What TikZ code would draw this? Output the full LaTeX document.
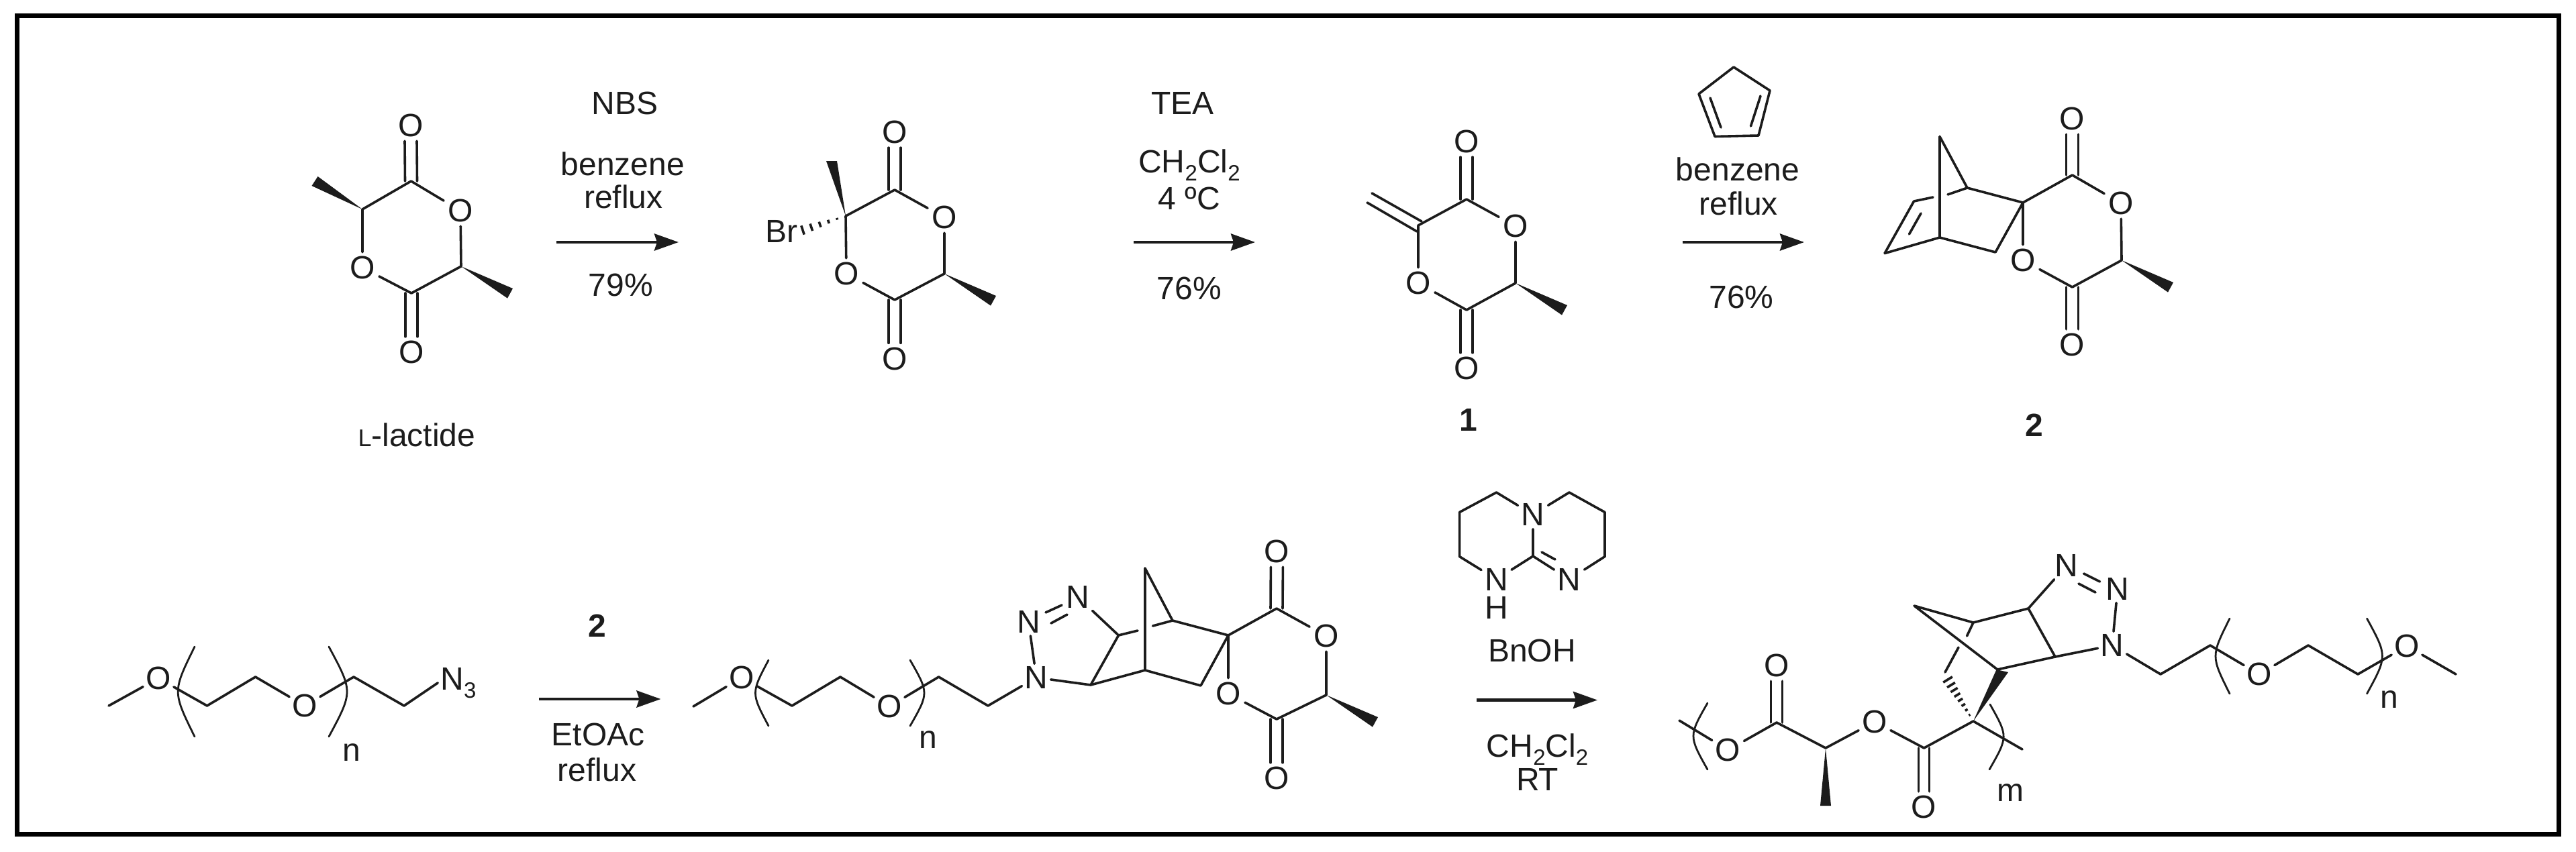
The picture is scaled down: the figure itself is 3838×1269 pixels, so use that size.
\documentclass[tikz,border=0pt]{standalone}
\usepackage{fontspec}
\setmainfont{Liberation Sans}
\usetikzlibrary{calc,arrows.meta}
\definecolor{ink}{HTML}{1C1C1C}
\newcommand{\subnum}[1]{\raisebox{-0.26em}{\fontsize{33}{33}\selectfont #1}}
\newcommand{\hashw}[4]{%
  \foreach \hT in {#4}{%
    \path ($(#1)!\hT!(#2)$) coordinate (hp);
    \pgfmathsetmacro\hW{#3*\hT}
    \draw[hashstroke] ($(hp)!\hW pt!90:(#1)$) -- ($(hp)!\hW pt!-90:(#1)$);
  }}
\newcommand{\mewedge}[1]{\fill[ink] (#1) -- ++(77,33) -- ++(-8,14.6) -- cycle;}
\tikzset{
  bond/.style={draw=ink,line width=3.6pt,line cap=round,line join=round},
  hashstroke/.style={draw=ink,line width=3.6pt},
  thinbrk/.style={draw=ink,line width=2.8pt,line cap=round},
  atom/.style={font=\fontsize{48}{48}\selectfont,text=ink,inner sep=6pt},
  lab/.style={font=\fontsize{48}{48}\selectfont,text=ink,inner sep=0pt},
  numlab/.style={font=\fontsize{48}{48}\selectfont\bfseries,text=ink,inner sep=0pt},
  rxn/.style={draw=ink,line width=4.5pt,-{Stealth[length=36pt,width=25pt,inset=4pt]}},
  frame/.style={draw=black,line width=7pt}
}
\begin{document}
\begin{tikzpicture}[x=1pt,y=-1pt]
\useasboundingbox (0,0) rectangle (3838,1269);
\fill[white] (0,0) rectangle (3838,1269);
\draw[frame] (25.5,23.5) rectangle (3812.5,1243.5);

% ---------- L-lactide
\coordinate (a1) at (612.5,270); \coordinate (a2) at (540,312);
\coordinate (a3) at (613,437);   \coordinate (a4) at (687,397);
\node[atom] (ao1) at (686,314) {O};
\node[atom] (ao2) at (540,399) {O};
\node[atom] (ao3) at (612,187) {O};
\node[atom] (ao4) at (613,525) {O};
\draw[bond] (a1)--(ao1) (a1)--(a2) (a2)--(ao2) (ao2)--(a3) (a3)--(a4) (a4)--(ao1);
\draw[bond] ([xshift=-9pt]a1)--([xshift=-9pt]ao3.south) ([xshift=9pt]a1)--([xshift=9pt]ao3.south);
\draw[bond] ([xshift=-9pt]a3)--([xshift=-9pt]ao4.north) ([xshift=9pt]a3)--([xshift=9pt]ao4.north);
\fill[ink] (a2) -- (464.5,277) -- (473.5,263) -- cycle;
\mewedge{a4}
\node[lab] (lac) at (621,648) {{\fontsize{36}{36}\selectfont L}-lactide};

% ---------- arrow 1
\coordinate (r1s) at (829,361); \coordinate (r1e) at (1011,361);
\draw[rxn] (r1s)--(r1e);
\node[lab] (l1a) at (931,154) {NBS};
\node[lab] (l1b) at (928,244) {benzene};
\node[lab] (l1c) at (929,293) {reflux};
\node[lab] (l1d) at (925,425) {79\%};

% ---------- bromide
\coordinate (b1) at (1333,283); \coordinate (b2) at (1407,408);
\coordinate (b3) at (1333,447); \coordinate (bq) at (1260,322);
\node[atom] (bo1) at (1407,324) {O};
\node[atom] (bo2) at (1261,408) {O};
\node[atom] (bo3) at (1333,197) {O};
\node[atom] (bo4) at (1333,534.5) {O};
\node[lab] (br) at (1164,345) {Br};
\draw[bond] (b1)--(bo1) (b1)--(bq) (bq)--(bo2) (bo2)--(b3) (b3)--(b2) (b2)--(bo1);
\draw[bond] ([xshift=-9pt]b1)--([xshift=-9pt]bo3.south) ([xshift=9pt]b1)--([xshift=9pt]bo3.south);
\draw[bond] ([xshift=-9pt]b3)--([xshift=-9pt]bo4.north) ([xshift=9pt]b3)--([xshift=9pt]bo4.north);
\fill[ink] (bq) -- (1231,240) -- (1247,240) -- cycle;
\coordinate (bh) at (1196,343);
\hashw{bq}{bh}{7}{0.2,0.4,0.6,0.8,1.0}
\mewedge{b2}

% ---------- arrow 2
\coordinate (r2s) at (1689,361); \coordinate (r2e) at (1870,361);
\draw[rxn] (r2s)--(r2e);
\node[lab] (l2a) at (1762,154) {TEA};
\node[lab] (l2b) at (1772,246) {CH\subnum{2}Cl\subnum{2}};
\node[lab] (l2c) at (1772,296) {4 ºC};
\node[lab] (l2d) at (1772,430) {76\%};

% ---------- compound 1
\coordinate (c1) at (2185,297); \coordinate (c2) at (2258,422);
\coordinate (c3) at (2185,462); \coordinate (cq) at (2113,336);
\coordinate (cma) at (2118,330); \coordinate (cmb) at (2044,288);
\coordinate (cmc) at (2111,345); \coordinate (cmd) at (2037,302);
\node[atom] (co1) at (2258,337) {O};
\node[atom] (co2) at (2113,422) {O};
\node[atom] (co3) at (2185,211) {O};
\node[atom] (co4) at (2185,549) {O};
\draw[bond] (c1)--(co1) (c1)--(cq) (cq)--(co2) (co2)--(c3) (c3)--(c2) (c2)--(co1);
\draw[bond] ([xshift=-9pt]c1)--([xshift=-9pt]co3.south) ([xshift=9pt]c1)--([xshift=9pt]co3.south);
\draw[bond] ([xshift=-9pt]c3)--([xshift=-9pt]co4.north) ([xshift=9pt]c3)--([xshift=9pt]co4.north);
\draw[bond] (cma)--(cmb) (cmc)--(cmd);
\mewedge{c2}
\node[numlab] (n1) at (2188,626) {1};

% ---------- arrow 3, cyclopentadiene
\coordinate (p1) at (2583,100); \coordinate (p2) at (2637,135);
\coordinate (p3) at (2620,202); \coordinate (p4) at (2555,203.5);
\coordinate (p5) at (2531,140);
\draw[bond] (p1)--(p2)--(p3)--(p4)--(p5)--cycle;
\coordinate (p6) at (2548,146); \coordinate (p7) at (2564,190);
\coordinate (p8) at (2623,143); \coordinate (p9) at (2608.5,188);
\draw[bond] (p6)--(p7) (p8)--(p9);
\coordinate (r3s) at (2506.5,361); \coordinate (r3e) at (2688,361);
\draw[rxn] (r3s)--(r3e);
\node[lab] (l3b) at (2589,252.5) {benzene};
\node[lab] (l3c) at (2590,303) {reflux};
\node[lab] (l3d) at (2594.5,443) {76\%};

% ---------- compound 2
\coordinate (da) at (2890,203.5); \coordinate (db) at (2890,354);
\coordinate (dt) at (2931,280);   \coordinate (ds) at (3014,302);
\coordinate (dc) at (2973,376);   \coordinate (dl1) at (2851.5,300);
\coordinate (dl2) at (2808,377.6); \coordinate (dg1) at (2880,294);
\coordinate (dg2) at (2902,290);  \coordinate (di1) at (2862,318);
\coordinate (di2) at (2844.5,349);
\coordinate (d1) at (3087.5,261); \coordinate (d2) at (3161,388);
\coordinate (d3) at (3087.5,428);
\node[atom] (do1) at (3160,303) {O};
\node[atom] (do2) at (3014,388) {O};
\node[atom] (do3) at (3087.5,177) {O};
\node[atom] (do4) at (3087.5,514) {O};
\draw[bond] (da)--(db) (da)--(dt) (dt)--(ds) (ds)--(dc) (dc)--(db) (db)--(dl2) (dl2)--(dl1) (dl1)--(dg1) (dg2)--(dt) (di1)--(di2);
\draw[bond] (ds)--(do2) (ds)--(d1) (d1)--(do1) (do1)--(d2) (d2)--(d3) (d3)--(do2);
\draw[bond] ([xshift=-9pt]d1)--([xshift=-9pt]do3.south) ([xshift=9pt]d1)--([xshift=9pt]do3.south);
\draw[bond] ([xshift=-9pt]d3)--([xshift=-9pt]do4.north) ([xshift=9pt]d3)--([xshift=9pt]do4.north);
\mewedge{d2}
\node[numlab] (n2) at (3031,634) {2};

% ---------- azide
\coordinate (e0) at (162,1052);
\node[atom,inner sep=4pt] (eo1) at (236,1011) {O};
\coordinate (e1) at (308.5,1052); \coordinate (e2) at (380.6,1009);
\node[atom,inner sep=4pt] (eo2) at (454,1052) {O};
\coordinate (e3) at (527,1009); \coordinate (e4) at (602,1052);
\node[atom,anchor=base,inner sep=4pt] (en3) at (683,1028) {N\subnum{3}};
\draw[bond] (e0)--(eo1) (eo1)--(e1)--(e2)--(eo2) (eo2)--(e3)--(e4)--(en3.west);
\draw[thinbrk] (290,964) .. controls (257,1031) .. (290,1098);
\draw[thinbrk] (490,964) .. controls (526,1031) .. (490,1098);
\node[lab] (en) at (524,1122) {n};

% ---------- arrow 4
\coordinate (r4s) at (803,1042); \coordinate (r4e) at (984.5,1042);
\draw[rxn] (r4s)--(r4e);
\node[numlab] (l4a) at (889.5,933) {2};
\node[lab] (l4b) at (891,1095) {EtOAc};
\node[lab] (l4c) at (889.5,1147) {reflux};

% ---------- triazoline adduct
\coordinate (f0) at (1033,1053);
\node[atom,inner sep=4pt] (fo1) at (1105,1010) {O};
\coordinate (f1) at (1180,1052); \coordinate (f2) at (1252,1009);
\node[atom,inner sep=4pt] (fo2) at (1325,1053) {O};
\coordinate (f3) at (1398.6,1009); \coordinate (f4) at (1472,1052);
\node[atom,inner sep=4pt] (fn1) at (1544,1010) {N};
\node[atom,inner sep=4pt] (fn2) at (1532.5,927) {N};
\node[atom,inner sep=4pt] (fn3) at (1606,890) {N};
\draw[bond] (f0)--(fo1) (fo1)--(f1)--(f2)--(fo2) (fo2)--(f3)--(f4)--(fn1);
\draw[thinbrk] (1145,984) .. controls (1119,1033) .. (1145,1082);
\draw[thinbrk] (1356,984) .. controls (1384,1033) .. (1356,1082);
\node[lab] (fn) at (1383,1103) {n};
\coordinate (fa1) at (1558,913); \coordinate (fa2) at (1582,902);
\coordinate (fa3) at (1566,929); \coordinate (fa4) at (1590,916);
\draw[bond] (fa1)--(fa2) (fa3)--(fa4) (fn2)--(fn1);
\coordinate (f5) at (1625,1021); \coordinate (f6) at (1666.5,947);
\coordinate (fg1) at (1695,940); \coordinate (fg2) at (1717.5,933);
\coordinate (ft) at (1747,925);  \coordinate (fa) at (1706,847);
\coordinate (fb) at (1706,999);  \coordinate (fc) at (1789,1022);
\coordinate (fs) at (1830,947);
\draw[bond] (fn1)--(f5) (fn3)--(f6) (f6)--(f5) (f6)--(fg1) (fg2)--(ft) (fa)--(fb) (fa)--(ft) (f5)--(fb) (fb)--(fc) (fc)--(fs) (ft)--(fs);
\coordinate (f7) at (1902,907); \coordinate (f8) at (1976,1036);
\coordinate (f9) at (1902,1072);
\node[atom] (fo3) at (1976,948) {O};
\node[atom] (fo4) at (1830,1034) {O};
\node[atom] (fo5) at (1902.4,822) {O};
\node[atom] (fo6) at (1902,1160) {O};
\draw[bond] (fs)--(fo4) (fs)--(f7) (f7)--(fo3) (fo3)--(f8) (f8)--(f9) (f9)--(fo4);
\draw[bond] ([xshift=-9pt]f7)--([xshift=-9pt]fo5.south) ([xshift=9pt]f7)--([xshift=9pt]fo5.south);
\draw[bond] ([xshift=-9pt]f9)--([xshift=-9pt]fo6.north) ([xshift=9pt]f9)--([xshift=9pt]fo6.north);
\mewedge{f8}

% ---------- TBD
\node[atom,inner sep=5pt] (gn1) at (2284,767) {N};
\node[atom,inner sep=5pt] (gn2) at (2229.5,863.5) {N};
\node[lab] (gh) at (2229.5,906) {H};
\node[atom,inner sep=5pt] (gn3) at (2338,863.5) {N};
\coordinate (g1) at (2229.5,734); \coordinate (g2) at (2174.6,763.5);
\coordinate (g3) at (2174.6,829.6); \coordinate (g4) at (2284,829);
\coordinate (g5) at (2391,829.6); \coordinate (g6) at (2391,763.5);
\coordinate (g7) at (2338,734);
\coordinate (g8) at (2297,823); \coordinate (g9) at (2317,834);
\draw[bond] (gn1)--(g1)--(g2)--(g3)--(gn2) (gn2)--(g4)--(gn3) (gn3)--(g5)--(g6)--(g7)--(gn1) (gn1)--(g4) (g8)--(g9);
\node[lab] (gb) at (2282.6,970) {BnOH};
\coordinate (r5s) at (2200,1043.5); \coordinate (r5e) at (2380,1043.5);
\draw[rxn] (r5s)--(r5e);
\node[lab] (l5a) at (2290.6,1117) {CH\subnum{2}Cl\subnum{2}};
\node[lab] (l5b) at (2290.6,1161.5) {RT};

% ---------- polymer
\coordinate (h0) at (2502,1074);
\node[atom,inner sep=5pt] (ho1) at (2574.6,1118) {O};
\coordinate (h1) at (2647,1077); \coordinate (h2) at (2720,1115);
\node[atom,inner sep=5pt] (ho2) at (2793,1076) {O};
\coordinate (h3) at (2866.6,1115); \coordinate (hq) at (2940,1075);
\coordinate (he) at (3013,1117);
\node[atom] (ho3) at (2647,992) {O};
\node[atom] (ho4) at (2866.6,1203) {O};
\draw[bond] (h0)--(ho1) (ho1)--(h1)--(h2)--(ho2) (ho2)--(h3)--(hq)--(he);
\draw[bond] ([xshift=-8.5pt]h1)--([xshift=-8.5pt]ho3.south) ([xshift=8.5pt]h1)--([xshift=8.5pt]ho3.south);
\draw[bond] ([xshift=-8pt]h3)--([xshift=-8pt]ho4.north) ([xshift=8pt]h3)--([xshift=8pt]ho4.north);
\fill[ink] (h2) -- (2712,1201) -- (2728,1201) -- cycle;
\fill[ink] (hq) -- (2974.5,998) -- (2992,1002) -- cycle;
\coordinate (hh) at (2902,1013);
\hashw{hq}{hh}{8}{0.15,0.27,0.39,0.51,0.63,0.75,0.87,1.0}
\coordinate (hg1) at (2898,1002); \coordinate (hg2) at (2918,965);
\coordinate (hg3) at (2930.5,948); \coordinate (ht) at (2940,928);
\coordinate (ha) at (2852,903); \coordinate (hb) at (2976,998);
\coordinate (h5) at (3022,907); \coordinate (h6) at (3062,979);
\draw[bond] (hg1)--(hg2) (hg3)--(ht) (ha)--(ht) (ha)--(hb) (ht)--(h5) (h5)--(h6) (h6)--(hb);
\draw[thinbrk] (2544,1048) .. controls (2516,1097) .. (2544,1147);
\draw[thinbrk] (2965,1050) .. controls (2992,1098) .. (2964,1147);
\node[lab] (hm) at (2995.6,1182) {m};
\node[atom,inner sep=4pt] (hn1) at (3079,843) {N};
\node[atom,inner sep=4pt] (hn2) at (3155,878) {N};
\node[atom,inner sep=4pt] (hn3) at (3147,962) {N};
\coordinate (hb1) at (3104.6,855); \coordinate (hb2) at (3128.6,867);
\coordinate (hb3) at (3097,870);   \coordinate (hb4) at (3122,883);
\draw[bond] (h5)--(hn1) (hb1)--(hb2) (hb3)--(hb4) (hn2)--(hn3) (h6)--(hn3);
\coordinate (h7) at (3219,1005); \coordinate (h8) at (3293,962);
\node[atom,inner sep=4pt] (ho5) at (3366,1005) {O};
\coordinate (h9) at (3439,962); \coordinate (h10) at (3513,1005);
\node[atom,inner sep=4pt] (ho6) at (3586,963) {O};
\coordinate (h11) at (3659,1005);
\draw[bond] (hn3)--(h7)--(h8)--(ho5) (ho5)--(h9)--(h10)--(ho6) (ho6)--(h11);
\draw[thinbrk] (3322,922) .. controls (3294,978) .. (3322,1034);
\draw[thinbrk] (3526.5,922) .. controls (3557,978) .. (3526.5,1034);
\node[lab] (hnn) at (3560,1043) {n};
\end{tikzpicture}
\end{document}
